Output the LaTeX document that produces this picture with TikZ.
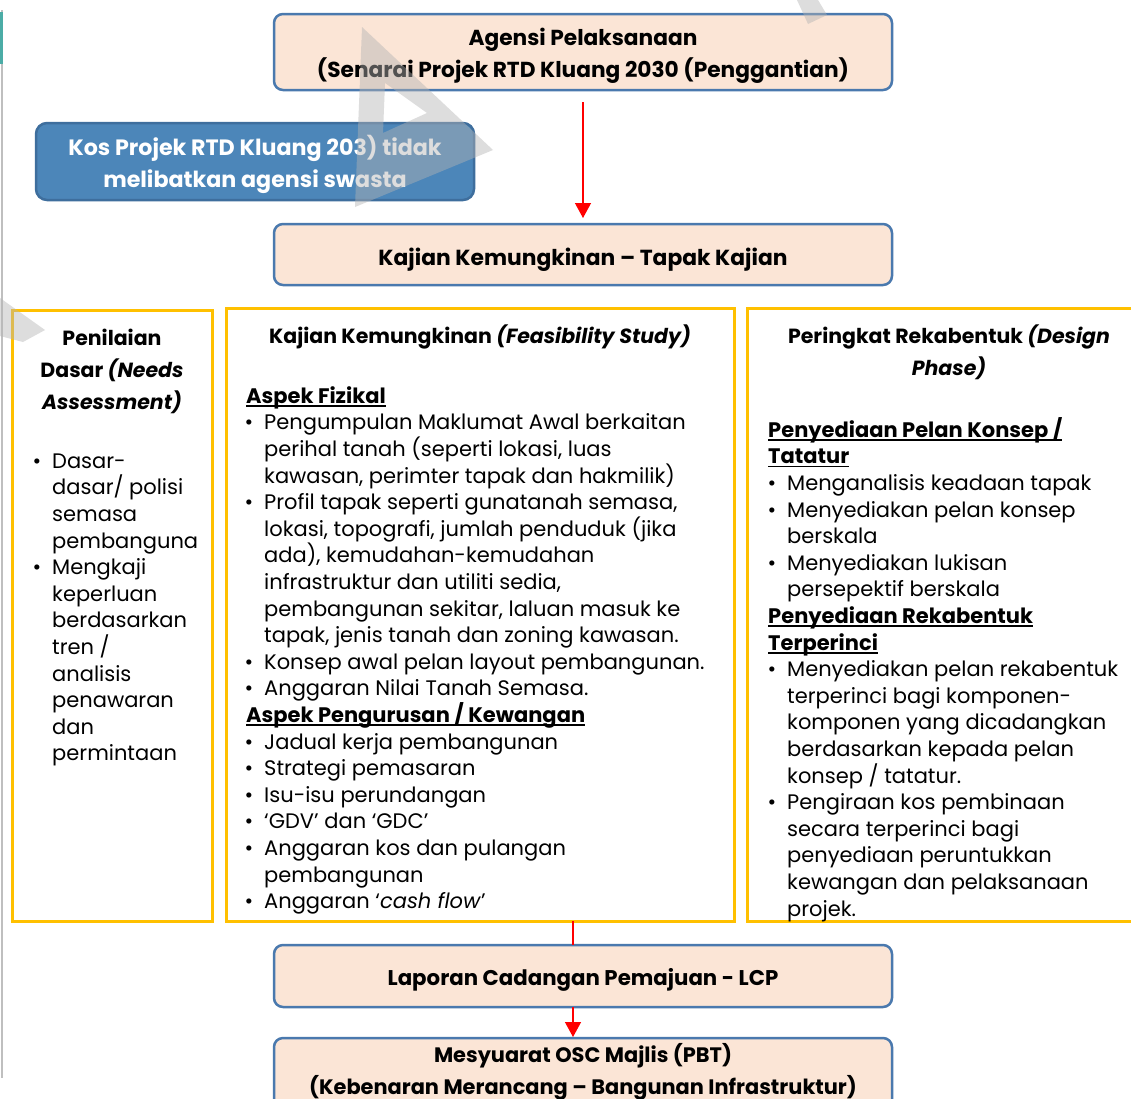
\documentclass[tikz,border=0pt]{standalone}
\usepackage{fontspec}
\setmainfont{Poppins}
\usetikzlibrary{arrows.meta}
\definecolor{peach}{HTML}{FBE5D6}
\definecolor{bluebd}{HTML}{4A79AE}
\definecolor{kosfill}{HTML}{4C86B9}
\definecolor{kosbd}{HTML}{3E6E9D}
\definecolor{gold}{HTML}{FFC000}
\definecolor{wmgray}{HTML}{B4B4B4}
\definecolor{edgegray}{HTML}{BFBFBF}
\definecolor{edgeteal}{HTML}{4BACA6}
\newcommand\fs{\rule{0pt}{20pt}}
\newcommand\bl{\llap{\textbullet\hspace{11pt}}}
\newcommand\hdul[2]{\hspace*{-#1}\bgroup\bfseries\setbox0\hbox{#2}\rlap{\rule[-3.5pt]{\wd0}{1.6pt}}\box0\egroup}
\newcommand\bsz[1]{\fontsize{#1}{32}\selectfont\bfseries}
\tikzset{
  box/.style={draw=bluebd, line width=2.5pt, fill=peach, rounded corners=9pt, minimum width=618pt, inner sep=0pt, outer sep=0pt},
  kos/.style={draw=kosbd, line width=2.5pt, fill=kosfill, rounded corners=11pt, minimum width=438pt, minimum height=77pt, inner sep=0pt, outer sep=0pt},
  panel/.style={draw=gold, line width=3pt, inner sep=0pt, outer sep=0pt},
  btext/.style={anchor=north, inner sep=0pt, align=center},
  head/.style={anchor=north, inner sep=0pt, align=center, font=\fontsize{20.5}{32}\selectfont\bfseries},
  body/.style={anchor=north west, inner sep=0pt, align=left, font=\fontsize{21}{26.6}\selectfont},
  flow/.style={draw=red, line width=1.3pt},
  tip/.style={-{Triangle[width=16pt,length=15pt]}},
  wm/.style={fill=wmgray, fill opacity=0.45}
}
\begin{document}
\begin{tikzpicture}[x=1pt,y=-1pt]
\useasboundingbox (0,0) rectangle (1131,1098);
\fill[white] (0,0) rectangle (1131,1098);
% left edge
\draw[edgegray, line width=1.5pt] (2,10) -- (2,1078);
\draw[edgeteal, line width=2.5pt] (1.5,12) -- (1.5,64);
% boxes
\node[box, minimum height=76pt] (agensi) at (583,52) {};
\node[kos] (kos) at (255,161.5) {};
\node[box, minimum height=61pt] (kajian) at (583,254.5) {};
\node[panel, minimum width=200pt, minimum height=611pt] (pL) at (112,615.5) {};
\node[panel, minimum width=508pt, minimum height=613pt] (pM) at (480,614.5) {};
\node[panel, minimum width=398pt, minimum height=613pt] (pR) at (946,614.5) {};
\node[box, minimum height=62pt] (lcp) at (583,976) {};
\node[box, minimum height=74pt] (osc) at (583,1075) {};
% box texts
\node[btext, font=\bsz{21.7}] (agensiT) at (583,25) {\fs Agensi Pelaksanaan\\(Senarai Projek RTD Kluang 2030 (Penggantian)};
\node[btext, font=\bsz{22.2}, text=white] (kosT) at (255,135) {\fs Kos Projek RTD Kluang 203) tidak\\melibatkan agensi swasta};
\node[btext, font=\bsz{21.8}] (kajianT) at (583,245) {\fs Kajian Kemungkinan – Tapak Kajian};
\node[btext, font=\bsz{21.3}] (lcpT) at (583,965) {\fs Laporan Cadangan Pemajuan - LCP};
\node[btext, font=\bsz{20.9}] (oscT) at (583,1042) {\fs Mesyuarat OSC Majlis (PBT)\\(Kebenaran Merancang – Bangunan Infrastruktur)};
% panel headings
\node[head] (hL) at (112,325) {\fs Penilaian\\Dasar \textit{(Needs}\\\textit{Assessment)}};
\node[head] (hM) at (480,323) {\fs Kajian Kemungkinan \textit{(Feasibility Study)}};
\node[head] (hR) at (949,323) {\fs Peringkat Rekabentuk \textit{(Design}\\\textit{Phase)}};
% panel bodies
\node[body] (bL) at (52,448) {\fs\bl Dasar-\\
dasar/ polisi\\
semasa\\
pembanguna\\
\bl Mengkaji\\
keperluan\\
berdasarkan\\
tren /\\
analisis\\
penawaran\\
dan\\
permintaan};
\node[body] (bM) at (264,383) {\fs\hdul{18pt}{Aspek Fizikal}\\
\bl Pengumpulan Maklumat Awal berkaitan\\
perihal tanah (seperti lokasi, luas\\
kawasan, perimter tapak dan hakmilik)\\
\bl Profil tapak seperti gunatanah semasa,\\
lokasi, topografi, jumlah penduduk (jika\\
ada), kemudahan-kemudahan\\
infrastruktur dan utiliti sedia,\\
pembangunan sekitar, laluan masuk ke\\
tapak, jenis tanah dan zoning kawasan.\\
\bl Konsep awal pelan layout pembangunan.\\
\bl Anggaran Nilai Tanah Semasa.\\
\hdul{18pt}{Aspek Pengurusan / Kewangan}\\
\bl Jadual kerja pembangunan\\
\bl Strategi pemasaran\\
\bl Isu-isu perundangan\\
\bl ‘GDV’ dan ‘GDC’\\
\bl Anggaran kos dan pulangan\\
pembangunan\\
\bl Anggaran ‘\textit{cash flow}’};
\node[body] (bR) at (787,417) {\fs\hdul{19pt}{Penyediaan Pelan Konsep /}\\
\hdul{19pt}{Tatatur}\\
\bl Menganalisis keadaan tapak\\
\bl Menyediakan pelan konsep\\
berskala\\
\bl Menyediakan lukisan\\
persepektif berskala\\
\hdul{19pt}{Penyediaan Rekabentuk}\\
\hdul{19pt}{Terperinci}\\
\bl Menyediakan pelan rekabentuk\\
terperinci bagi komponen-\\
komponen yang dicadangkan\\
berdasarkan kepada pelan\\
konsep / tatatur.\\
\bl Pengiraan kos pembinaan\\
secara terperinci bagi\\
penyediaan peruntukkan\\
kewangan dan pelaksanaan\\
projek.};
% connectors
\coordinate (a1s) at (583,102);
\draw[flow, tip, shorten >=6pt] (a1s) -- (kajian.north);
\coordinate (j1) at (573,921);
\draw[flow] (j1) -- (j1 |- lcp.north);
\draw[flow, tip, shorten >=1pt] (lcp.south -| j1) -- (osc.north -| j1);
% watermark fragments
\fill[wm, even odd rule] (362,27) -- (493,150) -- (355,207) -- cycle (385,83) -- (427,113) -- (383,133) -- cycle;
\fill[wm] (797,0) -- (818,0) -- (827,15) -- (808,24) -- cycle;
\fill[wm] (0,298) -- (45,330) -- (23,342) -- (0,336) -- cycle;
\end{tikzpicture}
\end{document}
